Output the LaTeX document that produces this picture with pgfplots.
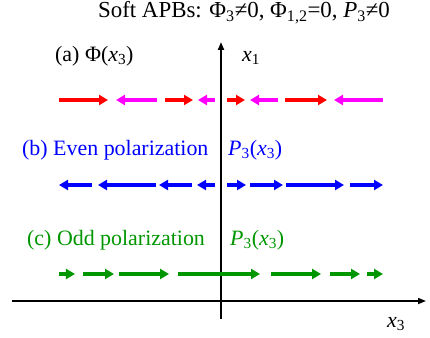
\documentclass[border=0pt]{standalone}
\usepackage{pgfplots}
\pgfplotsset{compat=1.18}
\usetikzlibrary{arrows.meta}
\usepackage{fontspec}
\setmainfont{Liberation Serif}
\definecolor{mygreen}{RGB}{0,150,0}
\definecolor{myred}{RGB}{255,0,0}
\definecolor{mymag}{RGB}{255,0,255}
\definecolor{myblue}{RGB}{0,0,255}
\begin{document}
\begin{tikzpicture}
\begin{axis}[
  scale only axis, width=430bp, height=338bp,
  xmin=0, xmax=430, ymin=0, ymax=338, y dir=reverse,
  hide axis, clip=false,
]
\path (axis cs:0,0) rectangle (axis cs:430,338);
% axes
\draw[line width=1.6bp, -{Triangle[length=8bp,width=6bp]}] (axis cs:12,301) -- (axis cs:426,301);
\draw[line width=2bp, -{Triangle[length=8bp,width=6bp]}] (axis cs:221,319) -- (axis cs:221,42);
% (a) red
\addplot[myred, line width=4bp, quiver={u=\thisrow{u},v=0}, -{Triangle[length=9bp,width=10bp]}] table {
x y u
59 100 49
165 100 28
227 100 18
285 100 42
};
\addplot[mymag, line width=4bp, quiver={u=\thisrow{u},v=0}, -{Triangle[length=9bp,width=10bp]}] table {
x y u
157 100 -41
215 100 -17
278 100 -28
383 100 -49
};
% (b) blue
\addplot[myblue, line width=4bp, quiver={u=\thisrow{u},v=0}, -{Triangle[length=9bp,width=10bp]}] table {
x y u
92 185 -33
156 185 -58
192 185 -33
215 185 -18
227 185 19
250 185 33
286 185 58
350 185 33
};
% (c) green
\addplot[mygreen, line width=4bp, quiver={u=\thisrow{u},v=0}, -{Triangle[length=9bp,width=10bp]}] table {
x y u
59 274 16
83 274 31
119 274 50
178 274 82
271 274 50
330 274 30
367 274 16
};
% texts
\node[anchor=base, inner sep=0pt, font=\fontsize{23}{25}\selectfont] at (axis cs:244,18) {Soft APBs: Φ\textsubscript{3}≠0, Φ\textsubscript{1,2}=0, \textit{P}\textsubscript{3}≠0};
\node[anchor=base west, inner sep=0pt, font=\fontsize{22}{24}\selectfont] at (axis cs:55,61) {(a) Φ(\textit{x}\textsubscript{3})};
\node[anchor=base west, inner sep=0pt, font=\fontsize{22}{24}\selectfont] at (axis cs:242,61) {\textit{x}\textsubscript{1}};
\node[anchor=base west, inner sep=0pt, text=myblue, font=\fontsize{22}{24}\selectfont] at (axis cs:22,155) {(b) Even polarization};
\node[anchor=base west, inner sep=0pt, text=myblue, font=\fontsize{22}{24}\selectfont] at (axis cs:228,155) {\textit{P}\textsubscript{3}(\textit{x}\textsubscript{3})};
\node[anchor=base west, inner sep=0pt, text=mygreen, font=\fontsize{22}{24}\selectfont] at (axis cs:27,245) {(c) Odd polarization};
\node[anchor=base west, inner sep=0pt, text=mygreen, font=\fontsize{22}{24}\selectfont] at (axis cs:230,245) {\textit{P}\textsubscript{3}(\textit{x}\textsubscript{3})};
\node[anchor=base west, inner sep=0pt, font=\fontsize{22}{24}\selectfont] at (axis cs:387,327) {\textit{x}\textsubscript{3}};
\end{axis}
\end{tikzpicture}
\end{document}
